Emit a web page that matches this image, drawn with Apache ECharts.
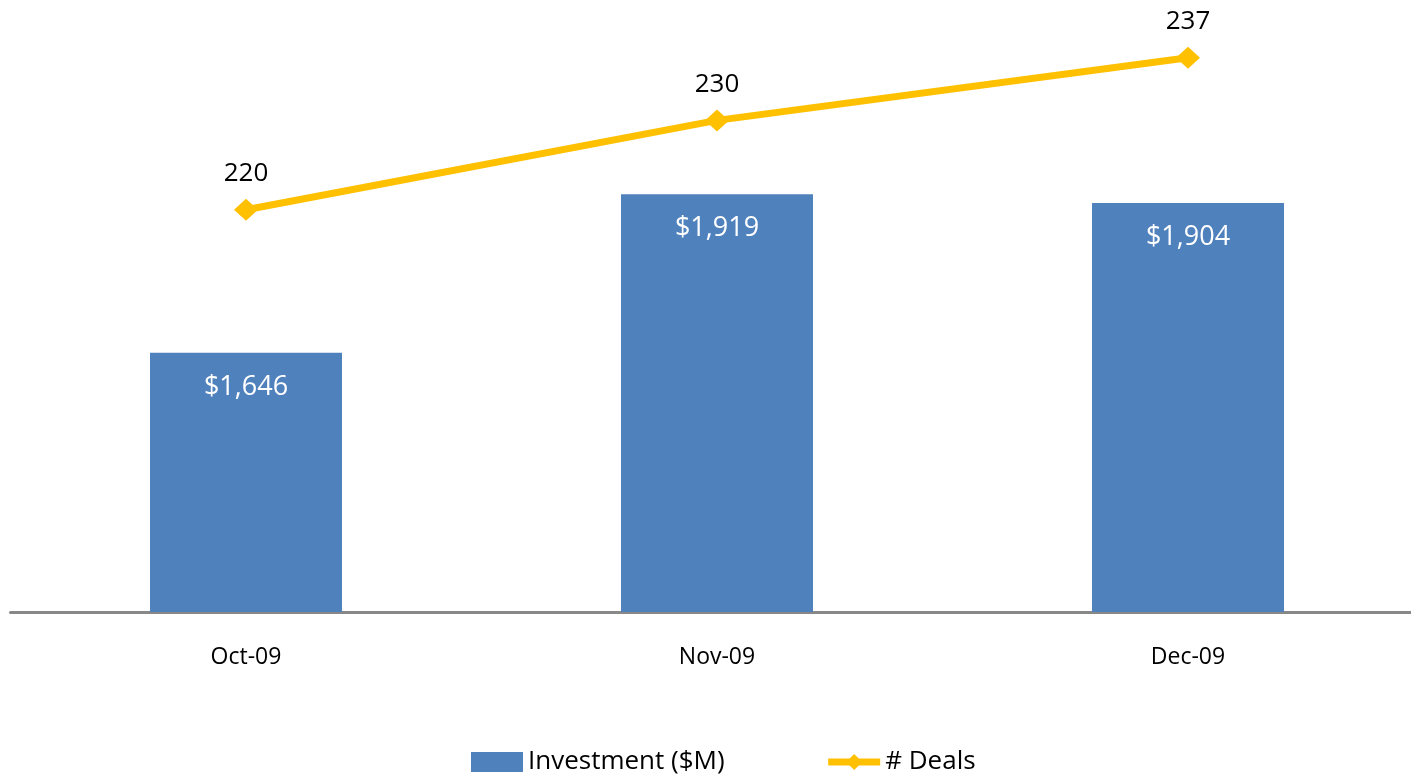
<!DOCTYPE html>
<html>
<head>
<meta charset="utf-8">
<script src="https://cdn.jsdelivr.net/npm/echarts@6/dist/echarts.min.js"></script>
<style>
  html, body { margin: 0; padding: 0; background: #fff; }
  #chart { width: 1411px; height: 780px; }
</style>
</head>
<body>
<div id="chart"></div>
<script>
const months = ['Oct-09', 'Nov-09', 'Dec-09'];
const investment = [1646, 1919, 1904];
const deals = [220, 230, 237];

const chart = echarts.init(document.getElementById('chart'));

const fontFamily = '"Open Sans", Lato, sans-serif';

chart.setOption({
    animation: false,
    textStyle: { fontFamily: fontFamily },
    grid: { left: 10.5, width: 1413, top: 31, bottom: 168, outerBoundsMode: 'none', containLabel: false },
    legend: {
        bottom: 0,
        left: 466,
        itemGap: 100,
        itemWidth: 52,
        itemHeight: 20,
        textStyle: { fontSize: 26, color: '#000', fontFamily: fontFamily },
        data: [
            { name: 'Investment ($M)', icon: 'rect' },
            { name: '# Deals', lineStyle: { width: 7 } }
        ]
    },
    xAxis: {
        type: 'category',
        data: months,
        axisLine: { lineStyle: { color: '#888', width: 3 } },
        axisTick: { show: false },
        axisLabel: { color: '#000', fontSize: 23, margin: 34 }
    },
    yAxis: [
        { type: 'value', min: 1200, max: 2200, show: false, splitLine: { show: false } },
        { type: 'value', min: 175, max: 240, show: false, splitLine: { show: false } }
    ],
    series: [
        {
            name: 'Investment ($M)',
            type: 'bar',
            data: investment,
            barWidth: 192,
            itemStyle: { color: '#4F81BD' },
            label: {
                show: true,
                position: 'insideTop',
                distance: 21,
                color: '#fff',
                fontSize: 27,
                formatter: p => '$' + p.value.toLocaleString('en-US')
            }
        },
        {
            name: '# Deals',
            type: 'line',
            yAxisIndex: 1,
            data: deals,
            symbol: 'diamond',
            symbolSize: [24, 22],
            lineStyle: { color: '#FFC000', width: 7 },
            itemStyle: { color: '#FFC000' },
            label: {
                show: true,
                position: 'top',
                distance: 12,
                color: '#000',
                fontSize: 26
            }
        }
    ]
});
</script>
</body>
</html>
